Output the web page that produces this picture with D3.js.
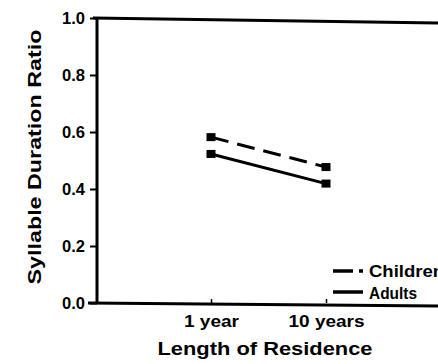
<!DOCTYPE html>
<html>
<head>
<meta charset="utf-8">
<script src="https://cdn.jsdelivr.net/npm/d3@7"></script>
<style>
  body { margin: 0; background: #fff; }
  text { font-family: "Liberation Sans", Arial, sans-serif; font-weight: bold; fill: #000; }
</style>
</head>
<body>
<svg id="chart" width="438" height="364"></svg>
<script>
const width = 438;
const height = 364;
const svg = d3.select("#chart");

const categories = ["1 year", "10 years"];
const childrenValues = [0.582, 0.477];
const adultsValues = [0.523, 0.419];
const yTicks = [0.0, 0.2, 0.4, 0.6, 0.8, 1.0];
const seriesNames = ["Children", "Adults"];

const plotLeft = 97, plotTop = 18, plotBottom = 303;

// pad the point scale so the two categories sit inside the frame
const x = d3.scalePoint()
    .domain(["start"].concat(categories, ["end"]))
    .range([plotLeft - 1, plotLeft + 344]);

const y = d3.scaleLinear()
    .domain([0, 1])
    .range([plotBottom, plotTop]);

// top border
svg.append("line")
    .attr("x1", plotLeft - 4).attr("x2", width)
    .attr("y1", plotTop).attr("y2", plotTop + 5)
    .attr("stroke", "#000").attr("stroke-width", 3);

// y axis
const yAxis = svg.append("g")
    .attr("transform", "translate(" + plotLeft + ",0)")
    .call(d3.axisLeft(y).tickValues(yTicks).tickFormat(d3.format(".1f")).tickSize(7).tickPadding(5));
yAxis.select(".domain").remove();
yAxis.selectAll(".tick line").attr("stroke", "#000").attr("stroke-width", 2);
yAxis.selectAll(".tick text")
    .style("font-size", "16px")
    .attr("textLength", 23)
    .attr("lengthAdjust", "spacingAndGlyphs");
svg.append("line")
    .attr("x1", plotLeft).attr("x2", plotLeft)
    .attr("y1", plotTop - 1).attr("y2", plotBottom + 1)
    .attr("stroke", "#000").attr("stroke-width", 3);

// x axis
const xLabelLen = { "1 year": 55, "10 years": 76 };
const xAxis = svg.append("g")
    .attr("transform", "translate(0," + plotBottom + ")")
    .call(d3.axisBottom(x).tickValues(categories).tickSize(-4).tickPadding(12));
xAxis.select(".domain").remove();
xAxis.selectAll(".tick line").attr("stroke", "#000").attr("stroke-width", 1.5);
xAxis.selectAll(".tick text")
    .style("font-size", "16px")
    .attr("dy", null)
    .attr("y", 24)
    .attr("textLength", d => xLabelLen[d])
    .attr("lengthAdjust", "spacingAndGlyphs");
svg.append("line")
    .attr("x1", plotLeft - 9).attr("x2", width)
    .attr("y1", plotBottom).attr("y2", plotBottom + 3)
    .attr("stroke", "#000").attr("stroke-width", 3);

// axis titles
svg.append("text")
    .attr("x", 265).attr("y", 355)
    .attr("text-anchor", "middle")
    .style("font-size", "18px")
    .attr("textLength", 215)
    .attr("lengthAdjust", "spacingAndGlyphs")
    .text("Length of Residence");

svg.append("text")
    .attr("transform", "translate(41,157) rotate(-90)")
    .attr("text-anchor", "middle")
    .style("font-size", "19px")
    .attr("textLength", 255)
    .attr("lengthAdjust", "spacingAndGlyphs")
    .text("Syllable Duration Ratio");

// series
const line = d3.line()
    .x((d, i) => x(categories[i]))
    .y(d => y(d));

const series = [
    { name: seriesNames[0], values: childrenValues, dash: "18,9", legendDash: "20,6,4,100", textLen: 75 },
    { name: seriesNames[1], values: adultsValues, dash: null, legendDash: null, textLen: 48 }
];

series.forEach(s => {
    svg.append("path")
        .datum(s.values)
        .attr("d", line)
        .attr("fill", "none")
        .attr("stroke", "#000")
        .attr("stroke-width", 3)
        .attr("stroke-dasharray", s.dash);

    svg.selectAll(null)
        .data(s.values)
        .enter()
        .append("rect")
        .attr("x", (d, i) => x(categories[i]) - 4.5)
        .attr("y", d => y(d) - 4)
        .attr("width", 9)
        .attr("height", 8)
        .attr("fill", "#000");
});

// legend
const legend = svg.append("g").attr("transform", "translate(333,271)");
series.forEach((s, i) => {
    legend.append("line")
        .attr("x1", 0).attr("x2", 30)
        .attr("y1", i * 21).attr("y2", i * 21)
        .attr("stroke", "#000")
        .attr("stroke-width", 3.5)
        .attr("stroke-dasharray", s.legendDash);
    legend.append("text")
        .attr("x", 36).attr("y", i * 22 + 6)
        .style("font-size", "17px")
        .attr("textLength", s.textLen)
        .attr("lengthAdjust", "spacingAndGlyphs")
        .text(s.name);
});
</script>
</body>
</html>
